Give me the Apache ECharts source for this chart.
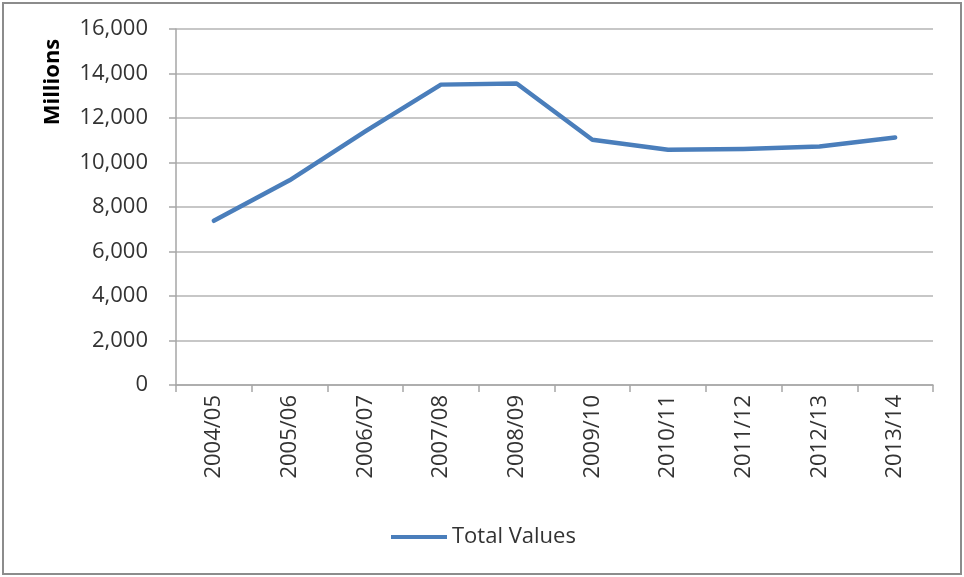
<!DOCTYPE html>
<html>
<head>
<meta charset="utf-8">
<style>
  html, body { margin: 0; padding: 0; background: #ffffff; }
  #frame { position: absolute; left: 2px; top: 2px; width: 956px; height: 569px; border: 2px solid #8c8c8c; }
  #chart { position: absolute; left: 0; top: 0; width: 964px; height: 577px; }
</style>
<script src="https://cdn.jsdelivr.net/npm/echarts@6/dist/echarts.min.js"></script>
</head>
<body>
<div id="frame"></div>
<div id="chart"></div>
<script>
// Financial years on the category axis
const categories = ['2004/05', '2005/06', '2006/07', '2007/08', '2008/09', '2009/10', '2010/11', '2011/12', '2012/13', '2013/14'];
// Total values, in millions
const totalValues = [7380, 9200, 11400, 13500, 13550, 11020, 10570, 10610, 10720, 11120];
// Value axis range
const yMin = 0;
const yMax = 16000;
const yStep = 2000;

const textColor = '#333333';
const gridColor = '#b4b4b4';
const font = '"Open Sans", "Liberation Sans", sans-serif';

const chart = echarts.init(document.getElementById('chart'), null, { renderer: 'canvas' });
chart.setOption({
  animation: false,
  backgroundColor: 'transparent',
  grid: { left: 176, right: 31, top: 29, bottom: 192, containLabel: false },
  graphic: [{
    // rotated value-axis title
    type: 'text',
    x: 53,
    y: 82,
    rotation: Math.PI / 2,
    style: {
      text: 'Millions',
      fill: '#000000',
      fontSize: 22,
      fontWeight: 'bold',
      fontFamily: font,
      align: 'center',
      verticalAlign: 'middle'
    }
  }],
  legend: {
    data: ['Total Values'],
    top: 521,
    left: 386,
    icon: 'rect',
    itemWidth: 56,
    itemHeight: 4,
    itemGap: 10,
    textStyle: { color: textColor, fontSize: 22, fontFamily: font, padding: [0, 0, 0, 0] }
  },
  xAxis: {
    type: 'category',
    data: categories,
    boundaryGap: true,
    axisLine: { show: true, lineStyle: { color: '#a6a6a6', width: 1.5 } },
    axisTick: { show: true, alignWithLabel: false, length: 7, inside: false, lineStyle: { color: '#a6a6a6', width: 1.5 } },
    axisLabel: { rotate: 90, margin: 10, color: textColor, fontSize: 22, fontFamily: font },
    splitLine: { show: false }
  },
  yAxis: {
    type: 'value',
    min: yMin,
    max: yMax,
    interval: yStep,
    axisLine: { show: true, lineStyle: { color: '#a6a6a6', width: 1.5 } },
    axisTick: { show: true, length: 7, lineStyle: { color: '#a6a6a6', width: 1.5 } },
    axisLabel: {
      margin: 28,
      color: textColor,
      fontSize: 22,
      fontFamily: font,
      formatter: v => v.toLocaleString('en-US')
    },
    splitLine: { show: true, lineStyle: { color: gridColor, width: 1.5 } }
  },
  series: [{
    name: 'Total Values',
    type: 'line',
    data: totalValues,
    symbol: 'none',
    lineStyle: { color: '#4a7ebb', width: 4.5, cap: 'round', join: 'round' },
    itemStyle: { color: '#4a7ebb' }
  }]
});
</script>
</body>
</html>
